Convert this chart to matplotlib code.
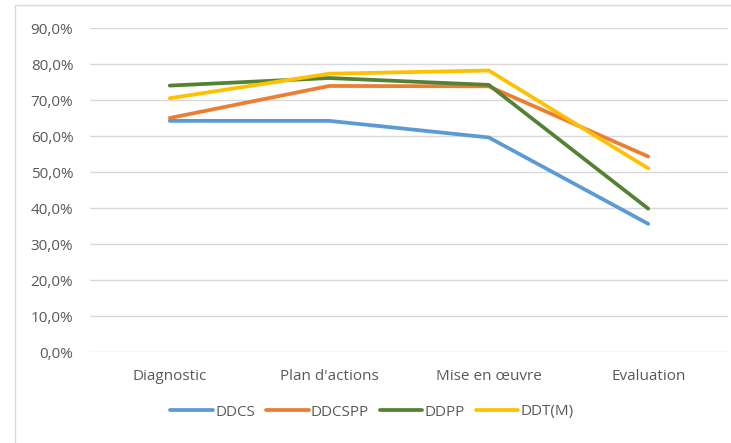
import matplotlib.pyplot as plt
from matplotlib.patches import Rectangle
from matplotlib.ticker import FuncFormatter

plt.rcParams["font.family"] = ["Open Sans", "DejaVu Sans"]

categories = ["Diagnostic", "Plan d'actions", "Mise en œuvre", "Evaluation"]
series_names = ["DDCS", "DDCSPP", "DDPP", "DDT(M)"]
ddcs = [64.2, 64.2, 59.6, 35.6]
ddcspp = [65.0, 73.9, 73.8, 54.3]
ddpp = [74.0, 76.1, 74.2, 39.8]
ddtm = [70.5, 77.3, 78.2, 51.0]
colors = ["#5b9bd5", "#ed7d31", "#548235", "#ffc000"]

W, H = 731, 443
fig = plt.figure(figsize=(W / 100, H / 100), dpi=100)
ax = fig.add_axes([90 / W, (H - 352) / H, (728 - 90) / W, (352 - 28) / H])

# outer chart border (cropped on right/bottom)
fig.patches.append(Rectangle((15 / W, -0.05), 1.1, (H - 5) / H + 0.05,
                             transform=fig.transFigure, fill=False,
                             edgecolor="#d9d9d9", linewidth=1.0))

x = list(range(len(categories)))
for name, vals, c in zip(series_names, [ddcs, ddcspp, ddpp, ddtm], colors):
    ax.plot(x, vals, color=c, linewidth=2.7, label=name,
            solid_capstyle="round", solid_joinstyle="round")

ax.set_xlim(-0.5, len(categories) - 0.5)
ax.set_ylim(0, 90)
ax.set_yticks(range(0, 91, 10))
ax.yaxis.set_major_formatter(FuncFormatter(lambda v, p: f"{v:.1f}%".replace(".", ",")))
ax.set_xticks(x)
ax.set_xticklabels(categories)
ax.grid(axis="y", color="#d9d9d9", linewidth=1.0)
ax.set_axisbelow(True)
for s in ax.spines.values():
    s.set_visible(False)
ax.tick_params(length=0, colors="#595959", labelsize=11)
ax.tick_params(axis="y", pad=12)
ax.tick_params(axis="x", pad=12)

leg = fig.legend(loc="center", bbox_to_anchor=(372 / W, (H - 412) / H), ncol=4,
                 frameon=False, fontsize=11, handlelength=2.8, handletextpad=0.15,
                 columnspacing=0.7)
for t in leg.get_texts():
    t.set_color("#595959")

fig.savefig("out.png", dpi=100)
